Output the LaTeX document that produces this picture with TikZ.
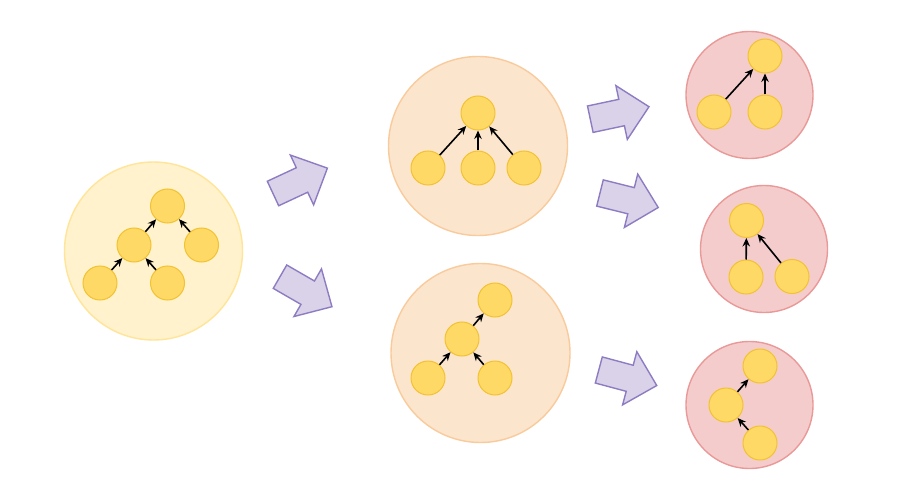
\documentclass[tikz,border=0pt]{standalone}
\usetikzlibrary{arrows.meta}
\definecolor{nodefill}{HTML}{FFD966}
\definecolor{nodedraw}{HTML}{F1C232}
\definecolor{yelfill}{HTML}{FFF2CC}
\definecolor{yeldraw}{HTML}{FFE599}
\definecolor{orafill}{HTML}{FCE5CD}
\definecolor{oradraw}{HTML}{F9CB9C}
\definecolor{redfill}{HTML}{F4CCCC}
\definecolor{reddraw}{HTML}{EA9999}
\definecolor{arrfill}{HTML}{D9D2E9}
\definecolor{arrdraw}{HTML}{8E7CC3}
\tikzset{
  item/.style={circle,fill=nodefill,draw=nodedraw,line width=1pt,minimum size=34pt,inner sep=0pt},
  yelgroup/.style={circle,fill=yelfill,draw=yeldraw,line width=1.4pt,inner sep=0pt},
  oragroup/.style={circle,fill=orafill,draw=oradraw,line width=1.4pt,inner sep=0pt},
  redgroup/.style={circle,fill=redfill,draw=reddraw,line width=1.4pt,inner sep=0pt},
  link/.style={draw=black,line width=1.6pt,-{Stealth[length=8.5pt,width=7.5pt,inset=2.8pt]}},
  blockarrow/.style={fill=arrfill,draw=arrdraw,line width=1.4pt,line join=miter}
}
\newcommand{\bigarrow}[2]{%
  \begin{scope}[shift={#1},rotate=#2]
    \draw[blockarrow] (0,-13.5) -- (32,-13.5) -- (32,-27.5) -- (60,0) -- (32,27.5) -- (32,13.5) -- (0,13.5) -- cycle;
  \end{scope}}
\begin{document}
\begin{tikzpicture}[x=1pt,y=-1pt]
\useasboundingbox (0,0) rectangle (923,489);
\fill[white] (0,0) rectangle (923,489);
% group circles
\node[yelgroup,minimum size=178pt] (g1) at (153.5,251) {};
\node[oragroup,minimum size=179pt] (g2) at (478,146) {};
\node[oragroup,minimum size=179pt] (g3) at (480.5,353) {};
\node[redgroup,minimum size=127pt] (g4) at (749.5,95) {};
\node[redgroup,minimum size=127pt] (g5) at (764,249) {};
\node[redgroup,minimum size=127pt] (g6) at (749.5,405) {};
% block arrows
\bigarrow{(273,193.5)}{25}
\bigarrow{(280,276.7)}{-30}
\bigarrow{(590.3,119.2)}{12}
\bigarrow{(600,193)}{-14}
\bigarrow{(598.8,370)}{-15}
% group 1
\node[item] (a1) at (167.5,206) {};
\node[item] (a2) at (134,245) {};
\node[item] (a3) at (201.5,245) {};
\node[item] (a4) at (100,283) {};
\node[item] (a5) at (167.5,283) {};
\draw[link] (a2) -- (a1);
\draw[link] (a3) -- (a1);
\draw[link] (a4) -- (a2);
\draw[link] (a5) -- (a2);
% group 2
\node[item] (b1) at (478,113) {};
\node[item] (b2) at (428,168) {};
\node[item] (b3) at (478,168) {};
\node[item] (b4) at (524,168) {};
\draw[link] (b2) -- (b1);
\draw[link] (b3) -- (b1);
\draw[link] (b4) -- (b1);
% group 3
\node[item] (c1) at (495,300) {};
\node[item] (c2) at (462,339) {};
\node[item] (c3) at (428,378) {};
\node[item] (c4) at (495,378) {};
\draw[link] (c2) -- (c1);
\draw[link] (c3) -- (c2);
\draw[link] (c4) -- (c2);
% group 4
\node[item] (d1) at (765,56) {};
\node[item] (d2) at (714,112) {};
\node[item] (d3) at (765,112) {};
\draw[link] (d2) -- (d1);
\draw[link] (d3) -- (d1);
% group 5
\node[item] (e1) at (746.5,220.5) {};
\node[item] (e2) at (746,277) {};
\node[item] (e3) at (792,276.5) {};
\draw[link] (e2) -- (e1);
\draw[link] (e3) -- (e1);
% group 6
\node[item] (f1) at (760,366) {};
\node[item] (f2) at (726,405) {};
\node[item] (f3) at (760,443) {};
\draw[link] (f2) -- (f1);
\draw[link] (f3) -- (f2);
\end{tikzpicture}
\end{document}
